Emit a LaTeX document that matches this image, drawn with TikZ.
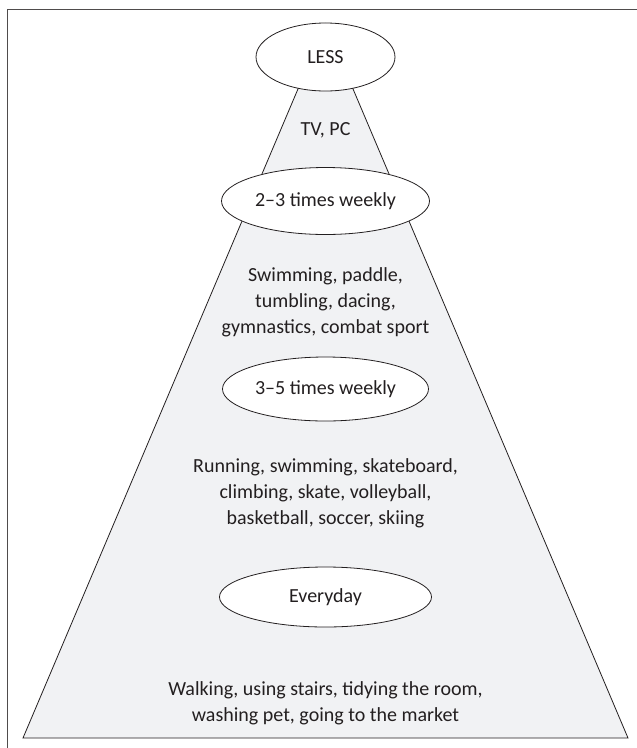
\documentclass[tikz,border=0pt]{standalone}
\usepackage{fontspec}
\setmainfont{Carlito}
\usetikzlibrary{positioning,shapes.geometric}

\definecolor{pyrfill}{HTML}{F1F2F4}
\definecolor{pyrline}{HTML}{231F20}

\begin{document}
\begin{tikzpicture}[x=1pt,y=-1pt,on grid,
  every node/.style={font=\fontsize{20}{26}\selectfont,text=pyrline},
  level/.style={ellipse,draw=pyrline,line width=0.8pt,fill=white,inner sep=0pt},
  activity/.style={align=center}]
\useasboundingbox (0,0) rectangle (637,748);
% frame
\draw [pyrline!80,line width=1pt] (637,9) -- (7,9) -- (7,748);
% pyramid
\coordinate (apex) at (325.5,24);
\coordinate (baseL) at (23,738);
\coordinate (baseR) at (628,738);
\draw [pyrline,line width=0.8pt,fill=pyrfill] (apex) -- (baseR) -- (baseL) -- cycle;
% levels
\node [level,minimum width=139pt,minimum height=68pt] (less) at (325.5,57) {LESS};
\node [activity,below=73pt of less] (screen) {TV, PC};
\node [level,minimum width=208pt,minimum height=67pt] (twothree) at (325.5,201) {2--3 times weekly};
\node [activity,below=101pt of twothree] (light) {Swimming, paddle,\\tumbling, dacing,\\gymnastics, combat sport};
\node [level,minimum width=206pt,minimum height=64pt] (threefive) at (325.5,389) {3--5 times weekly};
\node [activity,below=104pt of threefive] (moderate) {Running, swimming, skateboard,\\climbing, skate, volleyball,\\basketball, soccer, skiing};
\node [level,minimum width=212pt,minimum height=60pt] (everyday) at (325.5,597) {Everyday};
\node [activity,below=106pt of everyday] (daily) {Walking, using stairs, tidying the room,\\washing pet, going to the market};
\end{tikzpicture}
\end{document}
